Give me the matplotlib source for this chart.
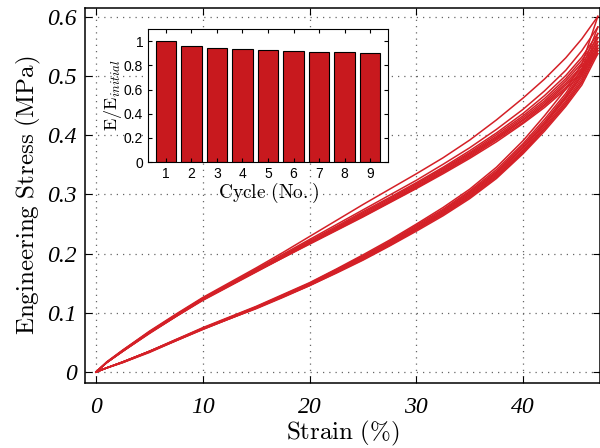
import matplotlib
matplotlib.use("Agg")
import matplotlib.pyplot as plt

plt.rcParams['mathtext.fontset'] = 'cm'

# strain grid (%)
strain = [0, 1, 2.5, 5, 7.5, 10, 12.5, 15, 17.5, 20, 22.5, 25, 27.5, 30, 32.5, 35, 37.5, 40, 42, 44, 45.5, 47]

# loading branches, cycles 1-9 (MPa)
load_1 = [0, .017, .037, .069, .098, .126, .151, .176, .202, .229, .256, .283, .309, .335, .362, .392, .426, .463, .495, .531, .563, .601]
load_2 = [0, .017, .037, .068, .097, .125, .149, .174, .199, .224, .249, .274, .299, .324, .351, .379, .410, .444, .475, .510, .543, .583]
load_3 = [0, .016, .036, .068, .096, .124, .148, .173, .197, .222, .246, .271, .295, .320, .346, .374, .404, .437, .467, .501, .532, .572]
load_4 = [0, .016, .036, .067, .096, .124, .148, .172, .196, .220, .244, .269, .293, .318, .344, .371, .401, .433, .462, .496, .527, .565]
load_5 = [0, .016, .036, .067, .095, .123, .147, .171, .195, .219, .243, .267, .291, .316, .342, .369, .398, .430, .458, .492, .522, .558]
load_6 = [0, .016, .035, .066, .095, .123, .147, .171, .194, .218, .242, .265, .289, .314, .340, .367, .396, .427, .455, .488, .517, .552]
load_7 = [0, .016, .035, .066, .094, .122, .146, .170, .194, .218, .241, .264, .288, .313, .338, .365, .394, .425, .452, .485, .513, .547]
load_8 = [0, .016, .035, .066, .094, .122, .146, .170, .193, .217, .240, .263, .287, .311, .337, .363, .392, .422, .450, .481, .509, .543]
load_9 = [0, .016, .035, .065, .094, .121, .145, .169, .193, .216, .239, .262, .286, .310, .335, .361, .389, .420, .447, .478, .505, .538]

# unloading branches, cycles 1-9 (MPa)
unload_1 = [0, .007, .017, .035, .055, .075, .093, .111, .131, .151, .174, .198, .223, .250, .278, .309, .346, .391, .433, .478, .520, .601]
unload_2 = [0, .007, .017, .035, .055, .074, .092, .110, .130, .150, .173, .196, .221, .248, .275, .306, .342, .386, .427, .471, .512, .583]
unload_3 = [0, .007, .017, .035, .054, .074, .092, .110, .129, .149, .172, .195, .219, .246, .273, .304, .339, .383, .423, .467, .507, .572]
unload_4 = [0, .007, .017, .035, .054, .073, .091, .109, .129, .149, .171, .194, .218, .244, .271, .302, .337, .380, .420, .464, .503, .565]
unload_5 = [0, .007, .017, .035, .054, .073, .091, .109, .128, .148, .170, .193, .217, .243, .270, .300, .335, .378, .418, .462, .500, .558]
unload_6 = [0, .007, .017, .034, .054, .073, .091, .108, .128, .147, .169, .192, .216, .242, .268, .298, .333, .375, .415, .458, .496, .552]
unload_7 = [0, .007, .016, .034, .053, .073, .090, .108, .127, .147, .169, .191, .215, .241, .267, .297, .331, .373, .412, .455, .492, .547]
unload_8 = [0, .007, .016, .034, .053, .072, .090, .108, .127, .146, .168, .190, .214, .240, .266, .295, .329, .371, .410, .452, .489, .543]
unload_9 = [0, .007, .016, .033, .053, .072, .090, .107, .126, .146, .167, .189, .213, .238, .264, .293, .327, .369, .407, .449, .485, .538]

loads = [load_1, load_2, load_3, load_4, load_5, load_6, load_7, load_8, load_9]
unloads = [unload_1, unload_2, unload_3, unload_4, unload_5, unload_6, unload_7, unload_8, unload_9]

# inset: normalised modulus per cycle
cycles = [1, 2, 3, 4, 5, 6, 7, 8, 9]
e_ratio = [1.0, 0.964, 0.945, 0.934, 0.925, 0.920, 0.914, 0.909, 0.906]

x_ticks = [0, 10, 20, 30, 40]
y_ticks = [0, 0.1, 0.2, 0.3, 0.4, 0.5, 0.6]
inset_y_ticks = [0, 0.2, 0.4, 0.6, 0.8, 1]

line_color = '#d42027'
bar_color = '#c8191e'
tick_font = dict(family='Liberation Serif', style='italic', size=17)

fig = plt.figure(figsize=(6, 4.48), dpi=100)
ax = fig.add_axes([0.1417, 0.145, 0.8583, 0.837])

for ld, ul in zip(loads, unloads):
    ax.plot(strain, ld, color=line_color, lw=1.1)
    ax.plot(strain, ul, color=line_color, lw=1.1)

ax.set_xlim(-1.03, 47.2)
ax.set_ylim(-0.0186, 0.615)
ax.set_xticks(x_ticks)
ax.set_yticks(y_ticks)
ax.set_xticklabels([str(t) for t in x_ticks], fontdict=tick_font)
ax.set_yticklabels(['0'] + [f'{t:.1f}' for t in y_ticks[1:]], fontdict=tick_font)
ax.tick_params(direction='in', top=True, right=True, length=5, width=0.8, pad=6)
ax.tick_params(axis='x', pad=10)
ax.grid(True, linestyle=(0, (1, 4)), color='#666666', lw=0.9)
for sp in ax.spines.values():
    sp.set_linewidth(1.1)
ax.set_xlabel(r'$\mathrm{Strain\ (\%)}$', fontsize=18, labelpad=1)
ax.set_ylabel(r'$\mathrm{Engineering\ Stress\ (MPa)}$', fontsize=18, labelpad=3)

# inset
ins = fig.add_axes([0.2467, 0.638, 0.4, 0.297])
ins.bar(cycles, e_ratio, width=0.8, color=bar_color, edgecolor='black', lw=0.8)
ins.set_xlim(0.3, 9.7)
ins.set_ylim(0, 1.1)
ins.set_xticks(cycles)
ins.set_yticks(inset_y_ticks)
ins.set_yticklabels(['0', '0.2', '0.4', '0.6', '0.8', '1'])
ins.tick_params(direction='in', top=True, right=True, labelsize=10, length=3)
for lab in ins.get_xticklabels() + ins.get_yticklabels():
    lab.set_family('Liberation Sans')
ins.set_xlabel(r'$\mathrm{Cycle\ (No.)}$', fontsize=14, labelpad=0)
ins.set_ylabel(r'$\mathrm{E/E}_{initial}$', fontsize=13, labelpad=0)

fig.savefig('out.png', dpi=100)
